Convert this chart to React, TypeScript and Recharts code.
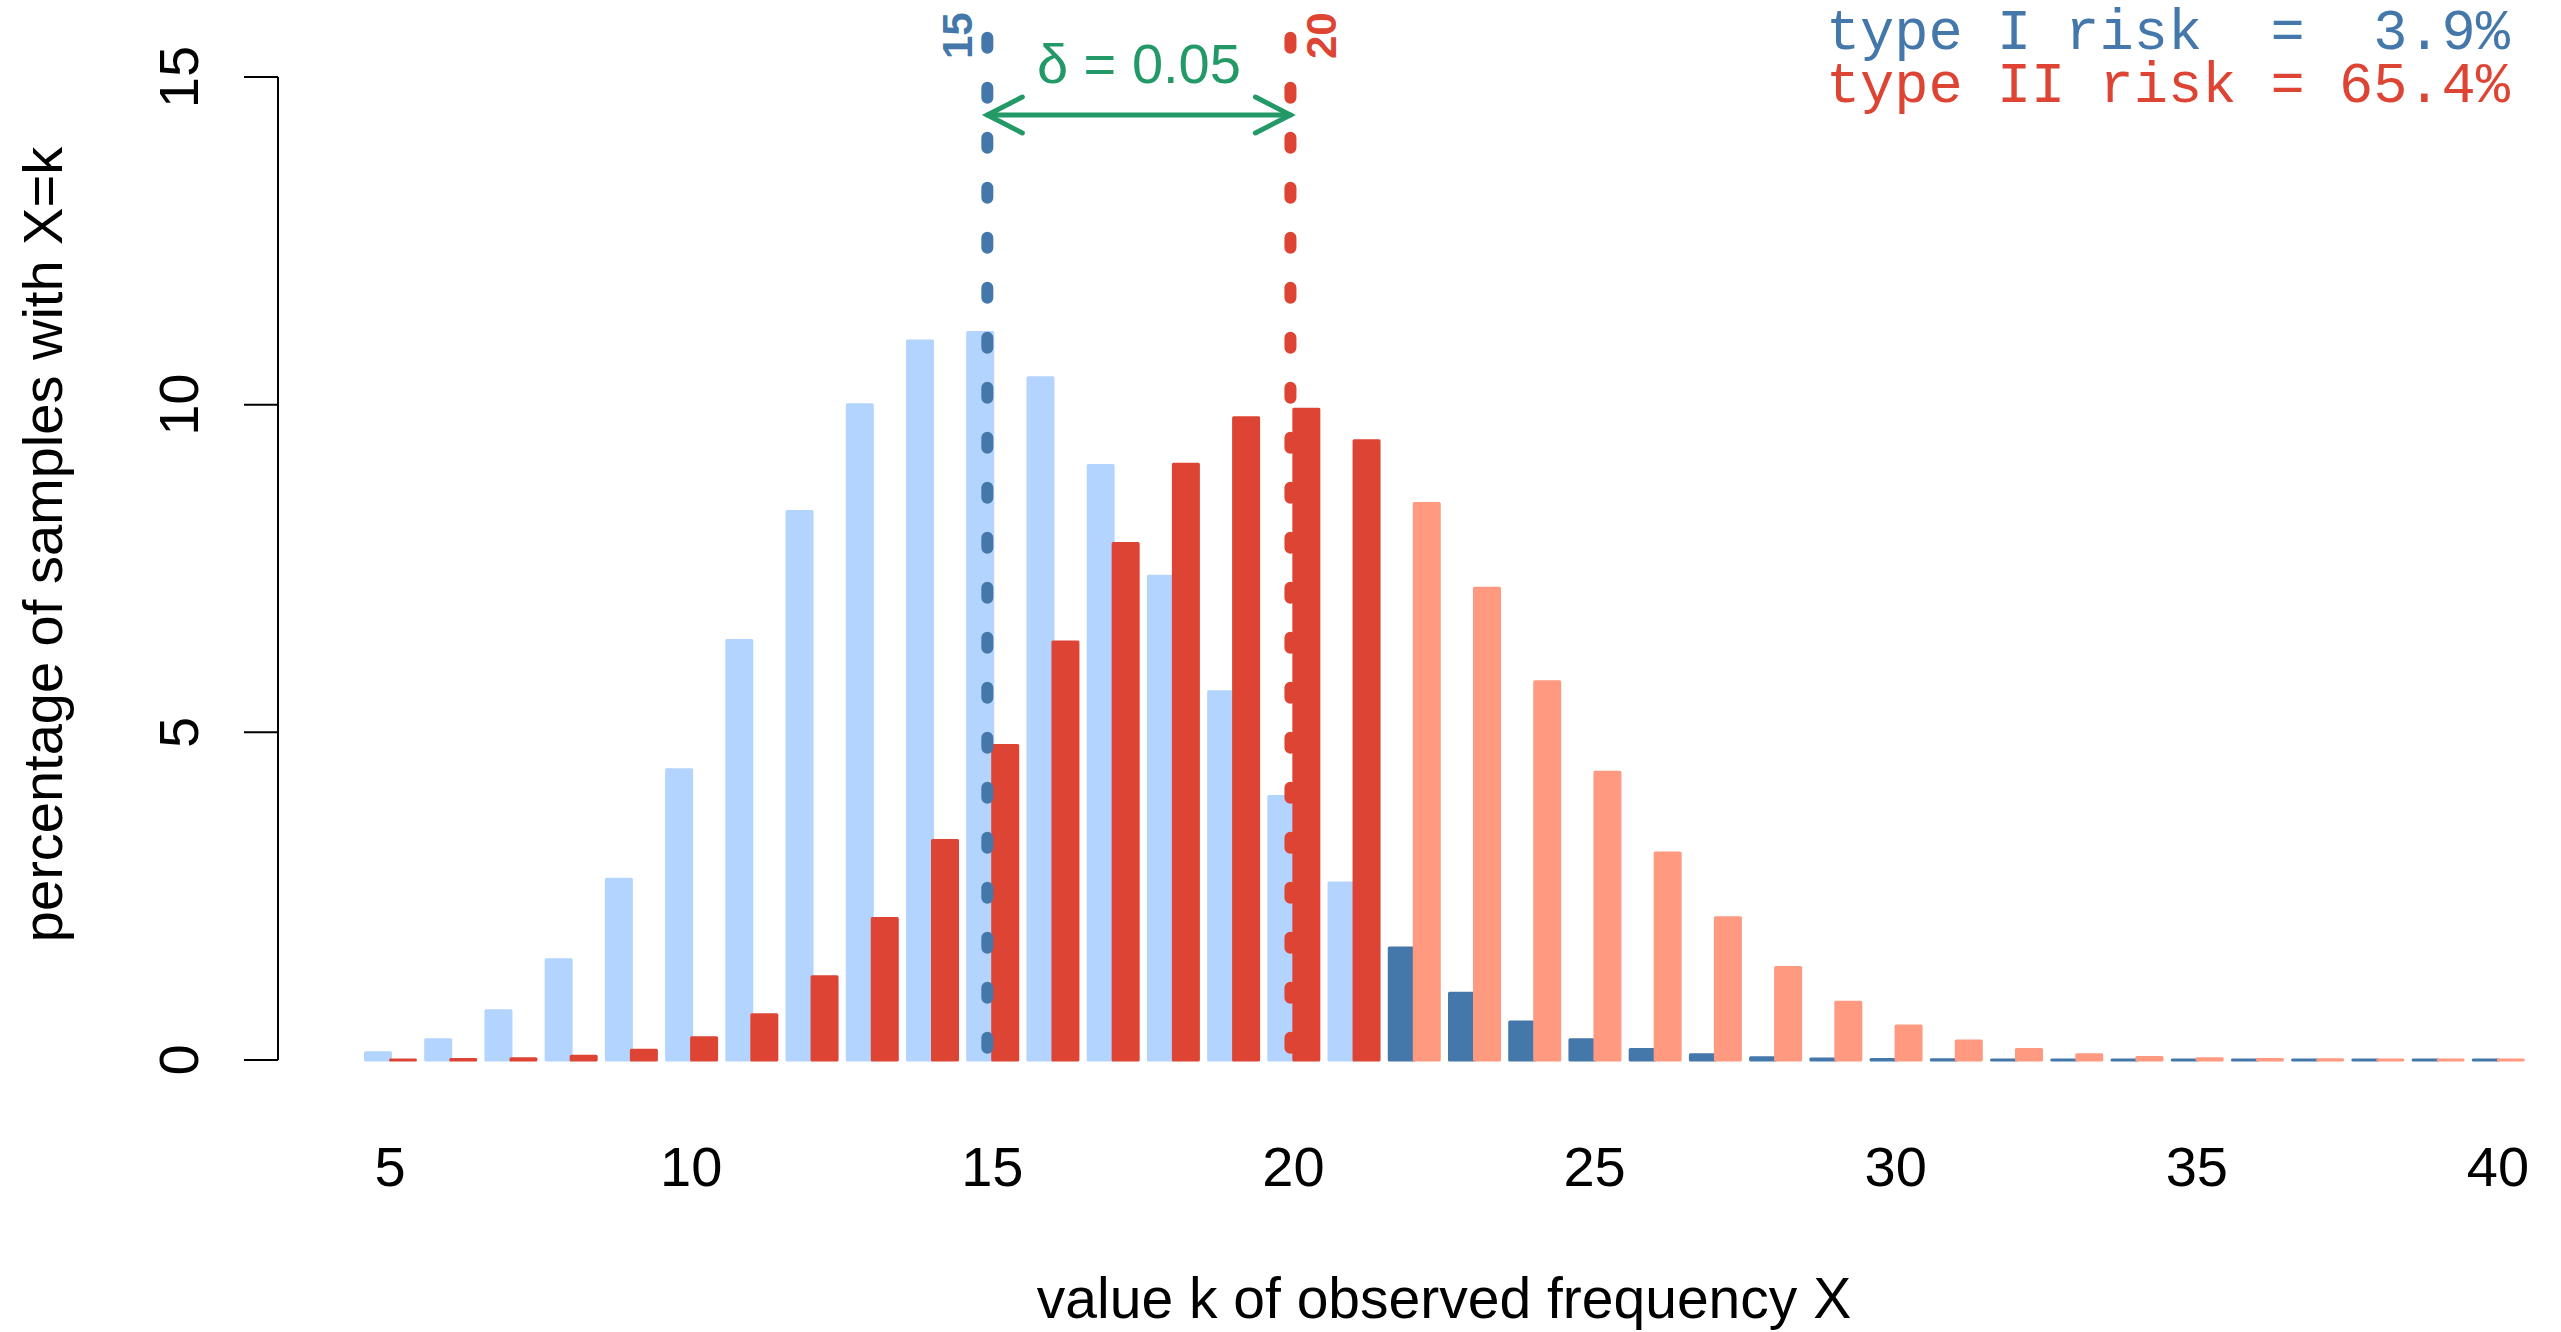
import React from "react";
import { BarChart, Bar, Cell, XAxis, YAxis, ReferenceLine, Customized } from "recharts";

// observed frequency k
const ks = [5, 6, 7, 8, 9, 10, 11, 12, 13, 14, 15, 16, 17, 18, 19, 20, 21, 22, 23, 24, 25, 26, 27, 28, 29, 30, 31, 32, 33, 34, 35, 36, 37, 38, 39, 40];
// % of samples with X=k under H0 (p = 15%)
const h0Pct = [0.11, 0.31, 0.75, 1.53, 2.76, 4.43, 6.4, 8.37, 10.0, 10.97, 11.1, 10.41, 9.07, 7.38, 5.62, 4.02, 2.7, 1.71, 1.02, 0.58, 0.31, 0.16, 0.08, 0.035, 0.016, 0.006, 0.003, 0.001, 0.0004, 0.0002, 0.0001, 0.0001, 0.0001, 0.0001, 0.0001, 0.0001];
// % of samples with X=k under H1 (p = 20%)
const h1Pct = [0.0015, 0.006, 0.02, 0.058, 0.15, 0.34, 0.69, 1.27, 2.16, 3.35, 4.8, 6.38, 7.88, 9.09, 9.8, 9.93, 9.45, 8.49, 7.2, 5.77, 4.39, 3.16, 2.17, 1.41, 0.88, 0.52, 0.29, 0.16, 0.08, 0.04, 0.019, 0.009, 0.004, 0.0015, 0.0006, 0.0002];
const yTicks = [0, 5, 10, 15];
const critical = 22; // rejection region starts here
const nullK = 15;
const altK = 20;
const deltaText = "δ = 0.05";
const riskLines = ["type I risk  =  3.9%", "type II risk = 65.4%"];

const data = ks.map((k, i) => ({ k, h0: h0Pct[i], h1: h1Pct[i] }));

const BLUE_LIGHT = "#b3d4fe";
const BLUE_DARK = "#4477aa";
const RED_DARK = "#dd4433";
const RED_LIGHT = "#ff9980";
const GREEN = "#229966";
const SANS = "'Liberation Sans', Arial, Helvetica, sans-serif";
const MONO = "'Liberation Mono', 'Courier New', monospace";
const PAD_LEFT = 82;

const XTick = ({ x, y, payload }: any) => (
  <text x={x} y={y + 126} textAnchor="middle" fontSize={56} fontFamily={SANS} fill="#000">
    {payload.value}
  </text>
);

const YTick = ({ x, y, payload }: any) => (
  <text transform={`translate(${x},${y}) rotate(-90)`} textAnchor="middle" fontSize={56} fontFamily={SANS} fill="#000">
    {payload.value}
  </text>
);

const YTitle = ({ viewBox }: any) => (
  <text
    transform={`translate(${viewBox.x + 62},${viewBox.y + viewBox.height / 2 - 24}) rotate(-90)`}
    textAnchor="middle"
    fontSize={56}
    fontFamily={SANS}
    fill="#000"
  >
    percentage of samples with X=k
  </text>
);

const XTitle = ({ viewBox }: any) => (
  <text
    x={viewBox.x + PAD_LEFT + (viewBox.width - PAD_LEFT) / 2}
    y={viewBox.y + 258}
    textAnchor="middle"
    fontSize={57}
    fontFamily={SANS}
    fill="#000"
  >
    value k of observed frequency X
  </text>
);

// dashed marker line at a hypothesised mean, with its rotated label
const dashedLine = (color: string, label: string, shift: number, labelDx: number) => (p: any) => {
  const x = p.x1 + shift;
  return (
    <g>
      <line
        x1={x}
        y1={p.y1}
        x2={x}
        y2={p.y2}
        stroke={color}
        strokeWidth={12}
        strokeDasharray="10 40"
        strokeLinecap="round"
      />
      <text
        transform={`translate(${x + labelDx},${p.y1 - 2}) rotate(-90)`}
        textAnchor="middle"
        fontSize={42}
        fontWeight="bold"
        fontFamily={SANS}
        fill={color}
      >
        {label}
      </text>
    </g>
  );
};

const DeltaArrow = (p: any) => {
  const x1 = p.x1 - 5;
  const x2 = p.x2 - 3;
  const y1 = p.y1;
  const y2 = p.y2;
  return (
    <g stroke={GREEN} strokeWidth={5} strokeLinecap="round" fill="none">
      <line x1={x1} y1={y1} x2={x2} y2={y2} />
      <polyline points={`${x1 + 35},${y1 - 18} ${x1},${y1} ${x1 + 35},${y1 + 18}`} />
      <polyline points={`${x2 - 35},${y2 - 18} ${x2},${y2} ${x2 - 35},${y2 + 18}`} />
      <text
        x={(x1 + x2) / 2}
        y={y1 - 32}
        textAnchor="middle"
        fontSize={56}
        fontFamily={SANS}
        fill={GREEN}
        stroke="none"
      >
        {deltaText}
      </text>
    </g>
  );
};

const nbsp = (s: string) => s.replace(/ /g, "\u00a0");

const RiskText = () => (
  <g fontFamily={MONO} fontSize={57} textAnchor="end">
    <text x={2510} y={49} fill={BLUE_DARK}>{nbsp(riskLines[0])}</text>
    <text x={2510} y={102} fill={RED_DARK}>{nbsp(riskLines[1])}</text>
  </g>
);

export default function App() {
  return (
    <div style={{ position: "absolute", left: 0, top: 0, width: 2561, height: 1332, background: "#fff" }}>
      <BarChart
        width={2561}
        height={1332}
        data={data}
        margin={{ top: 77, right: 33, bottom: 0, left: 0 }}
        barCategoryGap={5.5}
        barGap={0}
      >
        <XAxis
          dataKey="k"
          interval={4}
          axisLine={false}
          tickLine={false}
          tickSize={0}
          tickMargin={0}
          height={272}
          padding={{ left: PAD_LEFT, right: 0 }}
          tick={<XTick />}
          label={<XTitle />}
        />
        <YAxis
          width={278}
          domain={[0, 15]}
          ticks={yTicks}
          tickSize={34}
          tickMargin={46}
          axisLine={{ stroke: "#000", strokeWidth: 2 }}
          tickLine={{ stroke: "#000", strokeWidth: 2 }}
          tick={<YTick />}
          label={<YTitle />}
        />
        <Bar dataKey="h0" isAnimationActive={false}>
          {data.map((d) => {
            const c = d.k >= critical ? BLUE_DARK : BLUE_LIGHT;
            return <Cell key={`h0-${d.k}`} fill={c} stroke={c} strokeWidth={3} strokeLinejoin="round" />;
          })}
        </Bar>
        <Bar dataKey="h1" isAnimationActive={false}>
          {data.map((d) => {
            const c = d.k >= critical ? RED_LIGHT : RED_DARK;
            return <Cell key={`h1-${d.k}`} fill={c} stroke={c} strokeWidth={3} strokeLinejoin="round" />;
          })}
        </Bar>
        <ReferenceLine
          segment={[{ x: nullK, y: 15.6 }, { x: nullK, y: 0 }]}
          ifOverflow="visible"
          shape={dashedLine(BLUE_DARK, String(nullK), -5, -15)}
        />
        <ReferenceLine
          segment={[{ x: altK, y: 15.6 }, { x: altK, y: 0 }]}
          ifOverflow="visible"
          shape={dashedLine(RED_DARK, String(altK), -3, 46)}
        />
        <ReferenceLine
          segment={[{ x: nullK, y: 14.42 }, { x: altK, y: 14.42 }]}
          ifOverflow="visible"
          shape={DeltaArrow}
        />
        <Customized component={RiskText} />
      </BarChart>
    </div>
  );
}
